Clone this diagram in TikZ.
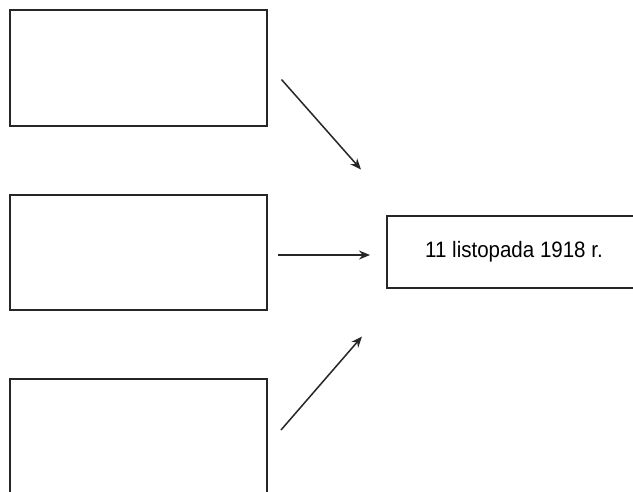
\documentclass[tikz,border=0pt]{standalone}
\usepackage{fontspec}
\setmainfont{Liberation Sans}[FakeStretch=0.92]
\usetikzlibrary{arrows.meta}
\tikzset{
  emptybox/.style={draw=black!85, line width=1.6pt, minimum width=257pt, minimum height=116pt, inner sep=0pt},
  datebox/.style={draw=black!85, line width=1.6pt, minimum width=254pt, minimum height=72pt, inner sep=0pt, font=\fontsize{22.3}{26}\selectfont},
  arr/.style={-{Stealth[length=11pt,width=9pt]}, line width=1.5pt, black!85}
}
\begin{document}
\begin{tikzpicture}[x=1pt,y=-1pt]
\useasboundingbox (0,0) rectangle (633,491);
\clip (0,0) rectangle (633,491);
\fill[white] (0,0) rectangle (633,491);
\node[emptybox] (b1) at (138.5,68) {};
\node[emptybox, minimum height=115pt] (b2) at (138.5,252.5) {};
\node[emptybox] (b3) at (138.5,437) {};
\node[datebox] (d) at (514,252) {11 listopada 1918 r.};
\coordinate (s1) at (281.5,79.5);
\coordinate (e1) at (361,169.5);
\coordinate (s2) at (278,255);
\coordinate (e2) at (370,255);
\coordinate (s3) at (281,430);
\coordinate (e3) at (362,336.5);
\draw[arr] (s1) -- (e1);
\draw[arr] (s2) -- (e2);
\draw[arr] (s3) -- (e3);
\end{tikzpicture}
\end{document}
